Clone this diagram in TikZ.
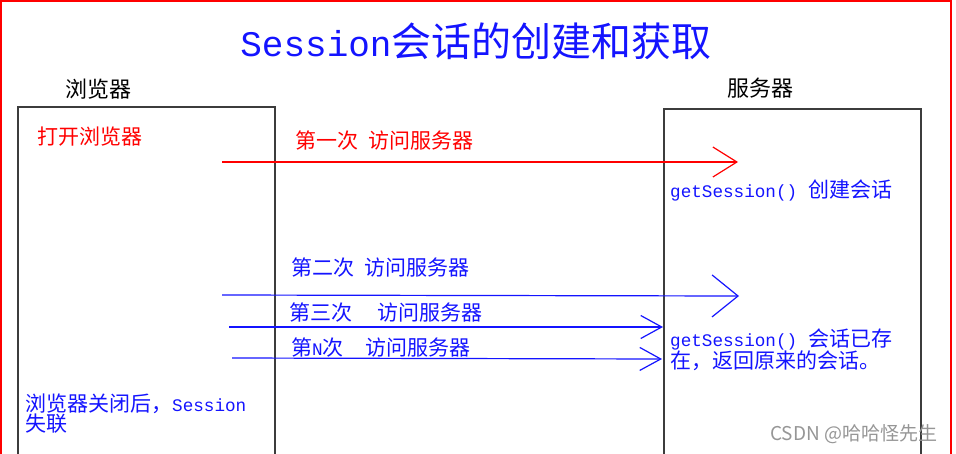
\documentclass[tikz,border=0pt]{standalone}
\usepackage{fontspec}
\setmainfont{Noto Sans CJK SC}
\newfontfamily\mf{Liberation Mono}
\newfontfamily\mfs[Scale=0.84]{Liberation Mono}
\usetikzlibrary{arrows.meta}
\definecolor{rd}{RGB}{255,0,0}
\definecolor{bl}{RGB}{20,20,255}
\definecolor{boxc}{RGB}{60,60,60}
\begin{document}
\begin{tikzpicture}[x=1pt,y=-1pt,
  lab/.style={anchor=west, inner sep=0pt, font=\fontsize{21}{20}\selectfont},
  box/.style={draw=boxc, line width=1.5pt},
  conn/.style={line width=1.2pt},
  bigbarb/.style={-{Straight Barb[length=26pt,width=42pt]}},
  midbarb/.style={-{Straight Barb[length=24pt,width=30pt]}},
  smallbarb/.style={-{Straight Barb[length=21pt,width=23pt]}}]
\useasboundingbox (0,0) rectangle (956,453);
\clip (0,0) rectangle (956,453);
\fill[white] (0,0) rectangle (956,453);
% frame and boxes
\draw[rd, line width=2pt] (1,1) rectangle (951,480);
\draw[box] (18,107) rectangle (275,480);
\draw[box] (664,109) rectangle (921,480);
% title
\node[inner sep=0pt, text=bl] (title) at (476,41) {\fontsize{36}{36}\selectfont\mf Session\fontsize{40}{40}\selectfont\rmfamily 会话的创建和获取};
\node[lab] (browser) at (65,89) {\fontsize{22}{22}\selectfont 浏览器};
\node[lab] (server) at (727,88) {\fontsize{22}{22}\selectfont 服务器};
% labels
\node[lab, text=rd] (open) at (37,137) {打开浏览器};
\node[lab, text=rd] (l1) at (295,141) {第一次\hspace{10pt}访问服务器};
\node[lab, text=bl] (create) at (670,191) {\mfs getSession()\rmfamily\hspace{11pt}创建会话};
\node[lab, text=bl] (l2) at (291,268) {第二次\hspace{10pt}访问服务器};
\node[lab, text=bl] (l3) at (289,313) {第三次\hspace{25pt}访问服务器};
\node[lab, text=bl] (l4) at (291,348) {第{\mfs N}次\hspace{22pt}访问服务器};
\node[lab, text=bl, align=left] (exist) at (670,350) {{\mfs getSession()}\hspace{11pt}会话已存\\在，返回原来的会话。};
\node[lab, text=bl, align=left] (closed) at (25,414) {浏览器关闭后，{\mfs Session}\\失联};
\node[anchor=west, inner sep=0pt, text={rgb,255:red,150;green,150;blue,150}, font=\fontsize{19}{19}\selectfont] (wm) at (770,434) {CSDN @哈哈怪先生};
% connectors
\coordinate (s1) at (222,162); \coordinate (e1) at (738,162);
\coordinate (s2) at (222,295); \coordinate (e2) at (739,296);
\coordinate (s3) at (229,327); \coordinate (e3) at (663,327);
\coordinate (s4) at (232,358); \coordinate (e4) at (662,359);
\draw[conn, rd, midbarb] (s1) -- (e1);
\draw[conn, bl, bigbarb] (s2) -- (e2);
\draw[conn, bl, smallbarb] (s3) -- (e3);
\draw[conn, bl, smallbarb] (s4) -- (e4);
\end{tikzpicture}
\end{document}
